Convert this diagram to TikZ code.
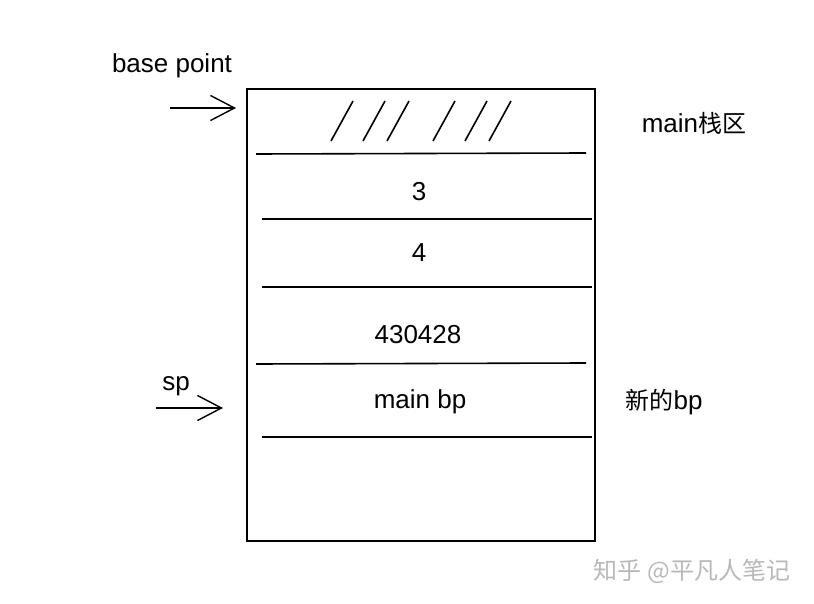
\documentclass[tikz,border=0pt]{standalone}
\usepackage{fontspec}
\setmainfont{Liberation Sans}
\newfontfamily\cjk{Noto Sans CJK SC}
\usetikzlibrary{arrows.meta}
\tikzset{
  lbl/.style={font=\fontsize{26}{30}\selectfont,inner sep=0pt},
  sep/.style={line width=1.6pt},
  ptr/.style={line width=1.4pt,-{Straight Barb[length=24pt,width=25pt,line width=1.4pt]}},
}
\newcommand{\zh}[1]{{\cjk\fontsize{24}{28}\selectfont #1}}
\begin{document}
\begin{tikzpicture}[x=1pt,y=-1pt]
\useasboundingbox (0,0) rectangle (814,604);
% the stack frame
\draw[line width=2pt] (247,89) rectangle (595,541);
\draw[sep] (256,154)--(586,153);
\draw[sep] (262,219)--(592,219);
\draw[sep] (262,287)--(592,287);
\draw[sep] (256,364)--(586,363);
\draw[sep] (262,437)--(592,437);
% hatching of the top slot
\foreach \x in {331,363,387,433,465,489}
  \draw[line width=1.6pt] (\x,141)--(\x+22,101);
\node[lbl] (s3) at (419,192) {3};
\node[lbl] (s4) at (419,253) {4};
\node[lbl] (ret) at (418,335) {430428};
\node[lbl] (mbp) at (420,402) {main bp};
% pointers on the left
\node[lbl] (base) at (172,66) {base point};
\coordinate (b1) at (170,108);
\coordinate (b2) at (236,108);
\draw[ptr] (b1)--(b2);
\node[lbl] (sp) at (176,386) {sp};
\coordinate (p1) at (156,408);
\coordinate (p2) at (223,408);
\draw[ptr] (p1)--(p2);
% notes on the right
\node[lbl] (area) at (694,123) {main\zh{栈区}};
\node[lbl] (newbp) at (664,402) {\zh{新的}bp};
\node[lbl,text=black!28] (mark) at (692,571) {\zh{知乎 @平凡人笔记}};
\end{tikzpicture}
\end{document}
